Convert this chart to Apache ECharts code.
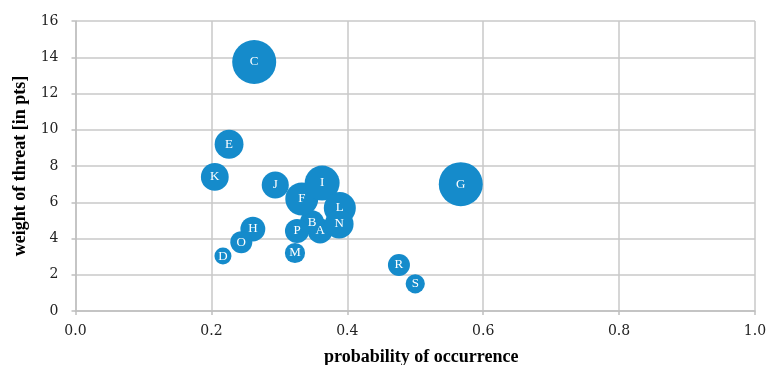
<!DOCTYPE html>
<html><head><meta charset="utf-8">
<script src="https://cdn.jsdelivr.net/npm/echarts@6/dist/echarts.min.js"></script>
<style>html,body{margin:0;padding:0;background:#fff;overflow:hidden}#c{width:767px;height:365px}</style>
</head><body><div id="c"></div>
<script>
const names = ['A','B','C','D','E','F','G','H','I','J','K','L','M','N','O','P','R','S'];
const probability = [0.360,0.348,0.263,0.217,0.226,0.333,0.567,0.261,0.363,0.294,0.205,0.389,0.323,0.388,0.244,0.326,0.476,0.500];
const weight = [4.41,4.9,13.74,3.03,9.2,6.18,7.0,4.52,7.06,6.95,7.4,5.68,3.2,4.8,3.8,4.41,2.54,1.5];
const bubbleSize = [3.2,3.0,10,1.5,4.3,5.6,10,3.2,6.3,3.8,4.0,5.3,2.1,4.3,2.5,3.0,2.5,1.9];
const xTicks = ['0.0','0.2','0.4','0.6','0.8','1.0'];
const yTicks = ['0','2','4','6','8','10','12','14','16'];

const data = names.map((n,i)=>[probability[i], weight[i], bubbleSize[i], n]);
const chart = echarts.init(document.getElementById('c'), null, {renderer:'canvas', width:767, height:365});
const font = 'Liberation Serif';
const tickFont = 'DejaVu Serif';
chart.setOption({
  animation:false,
  grid:{left:75.5,right:12,top:21,bottom:54,containLabel:false,outerBoundsMode:'none'},
  xAxis:{type:'value',min:0,max:1,interval:0.2,
    name:'probability of occurrence',nameLocation:'middle',nameGap:37,
    nameTextStyle:{fontFamily:font,fontWeight:'bold',fontSize:18,color:'#000',padding:[0,0,0,12]},
    axisLine:{show:true,lineStyle:{color:'#bfbfbf',width:1.5}},
    axisTick:{show:true,length:4,lineStyle:{color:'#bfbfbf',width:1.5}},
    splitLine:{show:true,lineStyle:{color:'#c8c8c8',width:1.5}},
    axisLabel:{fontFamily:tickFont,fontSize:14,color:'#222',margin:13,formatter:v=>xTicks[Math.round(v/0.2)]}},
  yAxis:{type:'value',min:0,max:16,interval:2,
    name:'weight of threat [in pts]',nameLocation:'middle',nameGap:44,
    nameTextStyle:{fontFamily:font,fontWeight:'bold',fontSize:18,color:'#000'},
    axisLine:{show:true,lineStyle:{color:'#bfbfbf',width:1.5}},
    axisTick:{show:true,length:4,lineStyle:{color:'#bfbfbf',width:1.5}},
    splitLine:{show:true,lineStyle:{color:'#c8c8c8',width:1.5}},
    axisLabel:{fontFamily:tickFont,fontSize:14,color:'#222',margin:17,formatter:v=>yTicks[Math.round(v/2)]}},
  series:[{type:'scatter',data:data,
    symbolSize:d=>44*Math.sqrt(d[2]/10),
    itemStyle:{color:'#158bcb',opacity:1},
    label:{show:true,position:'inside',formatter:p=>p.data[3],color:'#fff',fontFamily:font,fontSize:13}
  }]
});
</script></body></html>
